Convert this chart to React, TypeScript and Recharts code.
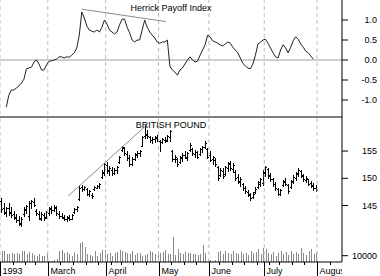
import { Bar, ComposedChart, Line, ReferenceLine, XAxis, YAxis } from "recharts";

// trading-day index of the first session of each month (Feb 1 1993 = 0)
const monthStarts = [0, 19, 42, 63, 83, 105, 126];
const monthLabels = ["1993", "March", "April", "May", "June", "July", "August"];
const weekStarts = [5, 10, 14, 24, 29, 34, 39, 44, 48, 53, 58, 68, 73, 78, 87, 92, 97, 102, 107, 111, 116, 121, 131];

// Herrick Payoff Index, one value per session
const hpi: (number | null)[] = [
  null, null, -1.18, -0.88, -0.75, -0.75, -0.7, -0.65, -0.58, -0.48,
  -0.22, -0.2, -0.18, -0.05, 0.0, -0.1, -0.25, -0.25, -0.12, -0.03,
  -0.02, 0.0, 0.02, 0.08, 0.08, 0.05, 0.08, 0.07, 0.12, 0.18,
  0.3, 0.62, 1.2, 1.05, 0.85, 0.75, 0.72, 0.7, 0.75, 0.7,
  0.82, 1.0, 0.9, 0.75, 0.7, 0.65, 0.7, 0.88, 1.02, 1.02,
  0.82, 0.68, 0.5, 0.45, 0.5, 0.5, 0.75, 1.0, 0.82, 0.7,
  0.62, 0.55, 0.45, 0.42, 0.45, 0.45, 0.5, -0.15, -0.25, -0.3,
  -0.38, -0.25, -0.2, -0.1, 0.0, 0.08, 0.0, -0.05, -0.03, 0.12,
  0.25, 0.38, 0.62, 0.58, 0.48, 0.45, 0.42, 0.38, 0.35, 0.4,
  0.45, 0.42, 0.32, 0.25, 0.18, 0.05, -0.08, -0.15, -0.2, -0.22,
  -0.1, 0.12, 0.4, 0.45, 0.5, 0.52, 0.42, 0.3, 0.18, 0.08,
  0.05, 0.25, 0.38, 0.3, 0.18, 0.32, 0.48, 0.58, 0.52, 0.4,
  0.32, 0.22, 0.18, 0.1, 0.02, null,
];

// British pound: [open, high, low, close]
const gbp: [number, number, number, number][] = [
  // Feb
  [145.8, 146.3, 143.9, 144.4], [144.6, 145.4, 143.5, 143.8], [143.6, 144.8, 143.0, 144.5], [144.6, 145.4, 143.3, 143.7],
  [143.8, 144.7, 142.9, 143.2], [143.4, 144.0, 142.5, 142.8], [142.9, 143.4, 142.0, 142.3], [142.4, 143.1, 141.4, 141.8],
  [141.6, 142.9, 141.2, 142.6], [143.4, 144.7, 143.1, 144.3], [144.2, 145.1, 143.6, 144.9], [143.0, 145.8, 142.3, 145.5],
  [145.4, 146.0, 144.5, 145.8], [145.6, 146.3, 144.9, 145.1], [144.0, 144.3, 143.3, 143.6], [143.5, 144.0, 142.5, 142.8],
  [142.6, 143.8, 142.3, 143.5], [143.3, 143.6, 142.3, 142.7], [142.9, 144.0, 142.7, 143.8],
  // Mar
  [143.7, 144.7, 143.3, 144.5], [144.4, 144.9, 143.6, 144.1], [144.2, 145.1, 144.0, 144.8], [144.6, 144.9, 143.3, 143.6],
  [143.5, 144.0, 142.7, 143.0], [143.1, 143.6, 142.7, 142.9], [142.8, 143.3, 142.3, 142.6], [142.5, 143.1, 142.2, 142.9],
  [142.8, 143.3, 142.3, 142.5], [142.6, 143.4, 142.5, 143.2], [143.8, 144.5, 143.6, 144.3], [144.3, 144.9, 144.0, 144.7],
  [146.2, 148.6, 146.0, 148.3], [148.4, 148.8, 147.7, 148.0], [148.1, 148.6, 147.9, 148.4], [148.0, 148.2, 146.9, 147.2],
  [147.1, 147.9, 146.8, 147.6], [147.0, 147.3, 146.4, 146.7], [148.0, 148.6, 147.9, 148.4], [148.3, 148.8, 148.2, 148.6],
  [148.5, 149.1, 148.2, 148.9], [150.3, 151.5, 150.1, 151.2], [151.0, 152.8, 150.6, 152.6],
  // Apr
  [152.4, 153.0, 151.0, 151.4], [151.5, 152.3, 150.6, 151.8], [151.6, 152.1, 150.6, 150.9], [151.0, 151.9, 150.8, 151.6],
  [151.5, 152.3, 151.0, 152.1], [153.0, 154.1, 152.8, 153.9], [155.2, 155.9, 155.0, 155.7], [155.5, 155.7, 154.3, 154.6],
  [154.5, 155.0, 153.4, 153.7], [153.8, 154.3, 152.3, 152.6], [152.7, 153.9, 152.4, 153.6], [153.6, 154.6, 153.4, 154.4],
  [154.3, 155.0, 153.9, 154.7], [154.6, 155.2, 154.1, 155.0], [156.0, 157.8, 155.9, 157.5], [157.8, 159.8, 157.4, 158.1],
  [158.0, 158.9, 157.4, 157.7], [157.6, 157.8, 156.7, 157.0], [157.0, 157.6, 156.5, 157.3], [157.2, 157.8, 156.7, 157.5],
  [157.4, 157.9, 156.8, 157.1],
  // May
  [156.8, 157.0, 155.0, 156.7], [156.7, 157.4, 156.5, 157.2], [157.1, 157.6, 156.7, 156.9], [157.0, 157.9, 156.8, 157.7],
  [157.5, 158.9, 156.8, 158.6], [155.0, 155.2, 153.2, 153.5], [153.6, 154.3, 153.0, 154.0], [153.5, 153.7, 152.3, 152.6],
  [152.9, 154.1, 152.8, 153.9], [153.7, 154.6, 153.2, 154.3], [154.2, 155.0, 153.7, 153.9], [153.8, 154.8, 153.4, 154.6],
  [155.2, 156.5, 155.0, 156.2], [155.4, 155.6, 154.3, 154.6], [154.5, 155.2, 153.9, 154.9], [154.8, 155.0, 153.7, 154.0],
  [154.4, 155.6, 154.3, 155.4], [155.3, 155.9, 154.8, 155.7], [155.8, 156.8, 155.6, 156.5], [155.4, 155.6, 153.7, 154.0],
  // Jun
  [154.2, 155.0, 153.2, 153.4], [153.5, 154.1, 152.6, 153.9], [153.4, 153.7, 152.3, 152.6], [152.1, 152.3, 149.7, 150.1],
  [150.6, 151.9, 150.4, 151.6], [151.4, 151.9, 150.1, 150.5], [150.8, 152.3, 150.6, 152.0], [151.8, 153.0, 151.3, 152.7],
  [152.8, 153.2, 151.5, 151.8], [151.7, 152.8, 151.2, 152.5], [151.2, 151.5, 149.7, 150.0], [150.2, 150.8, 149.1, 149.4],
  [149.5, 150.2, 148.6, 149.9], [148.9, 149.1, 147.9, 148.2], [148.3, 148.6, 147.3, 147.6], [147.5, 147.9, 146.8, 147.1],
  [146.9, 147.3, 146.0, 146.3], [146.5, 147.5, 146.4, 147.2], [147.4, 148.4, 147.3, 148.1], [148.4, 149.5, 148.2, 149.3],
  [149.0, 150.1, 148.6, 149.8], [149.1, 151.5, 148.8, 151.2],
  // Jul
  [151.0, 152.3, 150.4, 152.0], [151.7, 151.9, 150.1, 150.5], [150.6, 151.0, 149.5, 149.8], [149.9, 150.1, 148.6, 148.9],
  [149.0, 149.3, 147.9, 148.2], [148.0, 148.2, 146.9, 147.2], [147.2, 148.0, 146.9, 147.8], [148.8, 149.7, 148.6, 149.5],
  [149.3, 150.1, 148.8, 149.0], [148.8, 149.0, 147.3, 147.6], [148.4, 149.7, 148.2, 149.5], [149.4, 150.6, 149.1, 150.3],
  [150.1, 151.2, 149.7, 151.0], [150.8, 151.9, 150.4, 151.6], [151.3, 151.5, 150.2, 150.5], [150.6, 150.8, 149.5, 149.8],
  [149.7, 150.4, 149.3, 150.1], [149.8, 149.9, 148.8, 149.0], [149.1, 149.5, 148.4, 148.7], [148.6, 149.1, 147.9, 148.2],
  [148.3, 148.8, 147.7, 147.9],
];

const volume = [
  17000, 18000, 13000, 12500, 15000, 12000, 14500, 12000, 17000, 17500, 12500, 16000, 14000, 11000, 9500, 13000, 9500, 9000, 14000,
  1500, 1500, 3500, 4000, 17500, 19000, 14000, 16000, 12500, 9500, 16000, 12500, 30000, 32000, 24000, 12500, 11000, 9500, 17500, 9500, 14000, 19000, 19000,
  12500, 14000, 9500, 14000, 16000, 19000, 17500, 16000, 14000, 12000, 17500, 11000, 14000, 15000, 9000, 11000, 12500, 18000, 16000, 12500, 11000,
  14000, 16000, 19000, 13000, 12000, 40000, 11500, 21000, 14000, 12000, 16000, 14000, 15000, 12000, 12500, 11500, 13000, 27000, 14000, 3000,
  2500, 2000, 3000, 16000, 18000, 12000, 17000, 15000, 12500, 18000, 14000, 12000, 16000, 13000, 15000, 11500, 17000, 13500, 15500, 20000, 12000, 22000,
  20000, 15000, 12000, 16500, 10000, 14500, 17000, 12000, 15500, 11000, 18000, 13000, 16500, 12500, 22000, 14000, 11500, 17500, 21000, 12000, 16000,
];

const hpiTrend = [{ x: 32, y: 1.27 }, { x: 65.4, y: 0.96 }];
const gbpTrend = [{ x: 26.6, y: 146.75 }, { x: 57.8, y: 159.8 }];

const hpiMajor = [1, 0.5, 0, -0.5, -1];
const hpiMinor = Array.from({ length: 29 }, (_, k) => (k - 14) / 10);
const gbpMajor = [145, 150, 155];
const gbpMinor = Array.from({ length: 17 }, (_, k) => 140 + k * 1.25);
const volMajor = [10000];
const volMinor = [20000, 30000, 40000, 50000];

const data = gbp.map(([o, h, l, c], i) => ({ i, hpi: hpi[i], o, h, l, c, range: [l, h], vol: volume[i] }));

const FONT = '"Liberation Sans", Arial, sans-serif';
const PLOT_W = 342;
// axes need a non-zero width to render; keep it tiny so they all sit on the same line
const AXIS_W = 0.001;

function DayTick(props: any) {
  const { x, y, payload } = props;
  const m = monthStarts.indexOf(payload.value + 0.5);
  const px = Math.round(x) + 0.5;
  if (m < 0) return <line x1={px} x2={px} y1={y} y2={y + 3} stroke="#000" />;
  return (
    <g>
      <line x1={px} x2={px} y1={y} y2={y + 14} stroke="#000" />
      <svg x={px + 1} y={y} width={Math.max(0, PLOT_W - px - 1)} height={14}>
        <text x={1} y={12} fontSize={9} fontFamily={FONT} fill="#000">
          {monthLabels[m]}
        </text>
      </svg>
    </g>
  );
}

const sideLabel = (fmt: (v: number) => string) => (props: any) => (
  <text x={props.x + 27} y={props.y} dy="0.35em" textAnchor="end" fontSize={9} fontFamily={FONT} fill="#000">
    {fmt(props.payload.value)}
  </text>
);

function OhlcBar(props: any) {
  const { x, y, width, height, payload } = props;
  const top = Math.min(y, y + height);
  const bot = Math.max(y, y + height);
  const span = payload.h - payload.l || 1;
  const py = (v: number) => Math.round(top + ((payload.h - v) / span) * (bot - top)) + 0.5;
  const cx = Math.round(x + width / 2) + 0.5;
  return (
    <g stroke="#000" strokeWidth={1} shapeRendering="crispEdges">
      <line x1={cx} x2={cx} y1={Math.round(top)} y2={Math.round(bot) + 1} />
      <line x1={cx - 1.5} x2={cx} y1={py(payload.o)} y2={py(payload.o)} />
      <line x1={cx} x2={cx + 1.5} y1={py(payload.c)} y2={py(payload.c)} />
    </g>
  );
}

function VolBar(props: any) {
  const { x, y, width, height } = props;
  return <rect x={Math.round(x + width / 2)} y={y} width={1} height={height} fill="#8a8a8a" shapeRendering="crispEdges" />;
}

export default function App() {
  return (
    <div style={{ position: "relative", width: 380, height: 276 }}>
      <style>{`body{margin:0}`}</style>
      <ComposedChart width={380} height={276} data={data} margin={{ top: 0, right: 38, bottom: 0, left: 0 }}>
        <XAxis
          dataKey="i"
          type="number"
          domain={[-0.5, 135.4]}
          allowDataOverflow
          ticks={[...monthStarts, ...weekStarts].map((d) => d - 0.5)}
          interval={0}
          height={14}
          tickSize={0}
          tickMargin={0}
          tickLine={false}
          stroke="#000"
          tick={<DayTick />}
        />
        <XAxis xAxisId="v" dataKey="i" type="number" domain={[-0.5, 135.4]} hide />
        <YAxis yAxisId="hpi" orientation="right" width={AXIS_W} domain={[-5.05, 1.5]} ticks={hpiMajor} interval={0} tickSize={6} stroke="#000" tick={sideLabel((v) => v.toFixed(1))} />
        <YAxis yAxisId="hpiMinor" orientation="right" width={AXIS_W} domain={[-5.05, 1.5]} ticks={hpiMinor} interval={0} tickSize={3} stroke="#000" axisLine={false} tick={false} />
        <YAxis yAxisId="price" orientation="right" width={AXIS_W} domain={[134.64, 182.72]} ticks={gbpMajor} interval={0} tickSize={6} stroke="#000" axisLine={false} tick={sideLabel((v) => String(v))} />
        <YAxis yAxisId="priceMinor" orientation="right" width={AXIS_W} domain={[134.64, 182.72]} ticks={gbpMinor} interval={0} tickSize={3} stroke="#000" axisLine={false} tick={false} />
        <YAxis yAxisId="vol" orientation="right" width={AXIS_W} domain={[0, 416000]} ticks={volMajor} interval={0} tickSize={6} stroke="#000" axisLine={false} tick={sideLabel((v) => String(v))} />
        <YAxis yAxisId="volMinor" orientation="right" width={AXIS_W} domain={[0, 416000]} ticks={volMinor} interval={0} tickSize={3} stroke="#000" axisLine={false} tick={false} />

        {monthStarts.map((d) => (
          <ReferenceLine key={d} x={d - 0.5} yAxisId="hpi" stroke="#bdbdbd" strokeDasharray="4 3" />
        ))}
        <ReferenceLine y={0} yAxisId="hpi" stroke="#a0a0a0" />
        <ReferenceLine y={-1.425} yAxisId="hpi" stroke="#000" />

        <Bar xAxisId="v" yAxisId="vol" dataKey="vol" barSize={1} shape={<VolBar />} isAnimationActive={false} />
        <Bar yAxisId="price" dataKey="range" barSize={3} shape={<OhlcBar />} isAnimationActive={false} />
        <Line yAxisId="hpi" dataKey="hpi" type="linear" stroke="#222" strokeWidth={1} dot={false} isAnimationActive={false} />

        <ReferenceLine segment={hpiTrend} yAxisId="hpi" stroke="#8c8c8c" />
        <ReferenceLine segment={gbpTrend} yAxisId="price" stroke="#8c8c8c" />
      </ComposedChart>
      <svg width={380} height={276} style={{ position: "absolute", left: 0, top: 0, pointerEvents: "none" }}>
        <text x={PLOT_W / 2} y={11} textAnchor="middle" fontSize={9} fontFamily={FONT} fill="#000">
          Herrick Payoff Index
        </text>
        <text x={PLOT_W / 2} y={128} textAnchor="middle" fontSize={9} fontFamily={FONT} fill="#000">
          BRITISH POUND
        </text>
      </svg>
    </div>
  );
}
